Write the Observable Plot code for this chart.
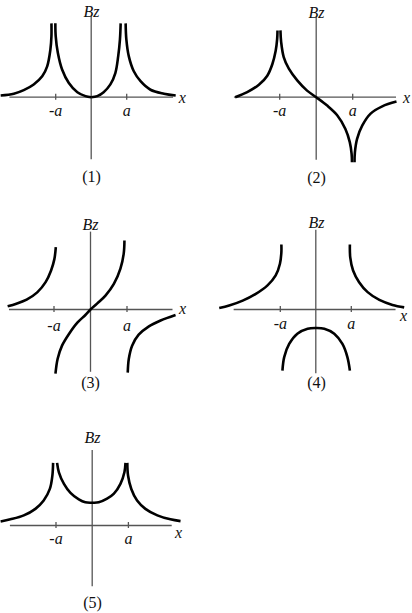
<!DOCTYPE html>
<html><head><meta charset="utf-8">
<script src="https://cdn.jsdelivr.net/npm/d3@7"></script>
<script src="https://cdn.jsdelivr.net/npm/@observablehq/plot@0.6"></script>
<style>
html,body{margin:0;padding:0;background:#fff;}
#chart{position:relative;width:412px;height:613px;overflow:hidden;background:#fff;}
#chart svg{position:absolute;overflow:visible;background:transparent;}
#chart svg text{font-family:"Liberation Serif","Times New Roman",serif;}
</style></head><body><div id="chart"></div>
<script>
// ---- data (x in units of a, Bz in arbitrary units) ----
const tickValues = [-1, 1];
const tickLabels = ["-a", "a"];
const axisName = "Bz";
const xName = "x";
const panelNames = ["(1)", "(2)", "(3)", "(4)", "(5)"];

// Panel (1)
const p1OuterLeft  = [[-2.55,0.05],[-2.18,0.10],[-1.90,0.20],[-1.62,0.36],[-1.38,0.59],[-1.24,0.87],[-1.15,1.34],[-1.12,1.72],[-1.12,2.08]];
const p1InnerLeft  = [[-1.01,2.08],[-1.00,1.72],[-0.94,1.25],[-0.82,0.78],[-0.63,0.40],[-0.39,0.14],[-0.16,0.03],[0,0]];
const p1InnerRight = [[0,0],[0.17,0.03],[0.35,0.14],[0.54,0.36],[0.68,0.68],[0.76,1.15],[0.81,1.63],[0.83,2.08]];
const p1OuterRight = [[0.97,2.08],[0.99,1.63],[1.06,1.15],[1.20,0.73],[1.39,0.45],[1.67,0.21],[2.05,0.10],[2.38,0.05]];

// Panel (2)
const p2OuterLeft  = [[-2.22,0.0],[-1.89,0.14],[-1.57,0.34],[-1.34,0.59],[-1.20,0.91],[-1.11,1.27],[-1.07,1.59],[-1.06,1.83]];
const p2Middle     = [[-0.98,1.83],[-0.96,1.51],[-0.89,1.10],[-0.75,0.78],[-0.52,0.46],[-0.25,0.18],[0,0],[0.30,-0.23],[0.58,-0.50],[0.80,-0.87],[0.92,-1.23],[0.97,-1.55],[0.98,-1.78]];
const p2OuterRight = [[1.05,-1.78],[1.06,-1.51],[1.12,-1.14],[1.26,-0.78],[1.49,-0.45],[1.81,-0.25],[2.20,-0.12]];

// Panel (3)
const p3Left   = [[-2.27,0.09],[-2.03,0.16],[-1.75,0.27],[-1.46,0.47],[-1.23,0.75],[-1.08,1.07],[-0.99,1.38],[-0.95,1.71]];
const p3Middle = [[-0.96,-1.76],[-0.90,-1.35],[-0.78,-0.99],[-0.59,-0.67],[-0.36,-0.36],[-0.14,-0.15],[0,0],[0.18,0.16],[0.41,0.38],[0.64,0.70],[0.82,1.12],[0.91,1.53],[0.93,1.89]];
const p3Right  = [[1.02,-1.73],[1.05,-1.35],[1.14,-0.99],[1.32,-0.69],[1.60,-0.46],[1.92,-0.30],[2.33,-0.15]];

// Panel (4)
const p4Left   = [[-2.72,0.04],[-2.44,0.11],[-2.06,0.25],[-1.69,0.44],[-1.36,0.68],[-1.13,0.96],[-1.01,1.29],[-0.97,1.61],[-0.97,1.83]];
const p4Right  = [[0.96,1.83],[0.97,1.47],[1.05,1.10],[1.22,0.77],[1.46,0.49],[1.79,0.27],[2.16,0.13],[2.49,0.06]];
const p4Middle = [[-0.94,-1.72],[-0.89,-1.34],[-0.75,-0.97],[-0.52,-0.68],[-0.23,-0.54],[0,-0.52],[0.24,-0.54],[0.52,-0.68],[0.75,-0.97],[0.89,-1.34],[0.96,-1.72]];

// Panel (5)
const p5OuterLeft  = [[-2.53,0.11],[-2.26,0.17],[-1.89,0.28],[-1.57,0.46],[-1.34,0.69],[-1.17,1.01],[-1.10,1.38],[-1.08,1.73]];
const p5Inner      = [[-0.97,1.73],[-0.92,1.47],[-0.78,1.15],[-0.60,0.90],[-0.37,0.72],[-0.19,0.64],[0,0.63],[0.18,0.64],[0.41,0.74],[0.60,0.88],[0.78,1.15],[0.89,1.47],[0.92,1.73]];
const p5OuterRight = [[0.97,1.73],[0.99,1.38],[1.08,1.01],[1.24,0.69],[1.47,0.46],[1.80,0.28],[2.16,0.17],[2.44,0.12]];

// ---- layout ----
const panels = [
  {L:0,   T:0,   W:206, H:200, ox:90.7,  oy:96.7, s:35.5, xAxis:[-2.29,2.32], yAxis:[-1.76,2.27],
   bz:[91,11],   xl:[181.7,97], num:[91,176],   tickDy:14, curves:[p1OuterLeft,p1InnerLeft,p1InnerRight,p1OuterRight]},
  {L:206, T:0,   W:206, H:200, ox:315.7, oy:96.7, s:36.5, xAxis:[-2.24,2.20], yAxis:[-1.73,2.19],
   bz:[316,12],  xl:[406,97],   num:[316,177],  tickDy:14, curves:[p2OuterLeft,p2Middle,p2OuterRight]},
  {L:0,   T:200, W:206, H:205, ox:90,    oy:309,  s:36.5, xAxis:[-2.22,2.26], yAxis:[-1.72,2.12],
   bz:[90,224],  xl:[182,308],  num:[90,382.7], tickDy:16, curves:[p3Left,p3Middle,p3Right]},
  {L:206, T:200, W:206, H:205, ox:315.3, oy:309,  s:35.5, xAxis:[-2.30,2.26], yAxis:[-1.81,2.23],
   bz:[316,222.7], xl:[403,315], num:[316,382.7], tickDy:14, curves:[p4Left,p4Right,p4Middle]},
  {L:0,   T:410, W:206, H:203, ox:91.7,  oy:525,  s:36.2, xAxis:[-2.26,2.21], yAxis:[-1.69,2.07],
   bz:[92,437.3], xl:[178,532.7], num:[92,602.7], tickDy:13, curves:[p5OuterLeft,p5Inner,p5OuterRight]}
];

const axisColor = "#555";
const font = "'Liberation Serif', 'Times New Roman', serif";
const fs = 16;
const chart = document.getElementById("chart");

panels.forEach((p, i) => {
  const px = v => (v - p.ox) / p.s;       // page px -> data x
  const py = v => (p.oy - v) / p.s;       // page px -> data y
  const xDom = [px(p.L), px(p.L + p.W)];
  const yDom = [py(p.T + p.H), py(p.T)];
  const th = 3 / p.s;
  const marks = [
    Plot.ruleY([0], {x1: p.xAxis[0], x2: p.xAxis[1], stroke: axisColor, strokeWidth: 1.3}),
    Plot.ruleX([0], {y1: p.yAxis[0], y2: p.yAxis[1], stroke: axisColor, strokeWidth: 1.3}),
    Plot.ruleX(tickValues, {x: d => d, y1: -th, y2: th, stroke: axisColor, strokeWidth: 1.3}),
    Plot.text(tickValues, {x: d => d, y: 0, dy: p.tickDy, text: (d, j) => tickLabels[j],
      fontFamily: font, fontStyle: "italic", fontSize: fs, fill: "#111"}),
    ...p.curves.map(c => Plot.line(c, {x: d => d[0], y: d => d[1], curve: "catmull-rom",
      stroke: "#000", strokeWidth: 2.6, strokeLinecap: "butt"})),
    Plot.text([axisName], {x: px(p.bz[0]), y: py(p.bz[1]), text: d => d,
      fontFamily: font, fontStyle: "italic", fontSize: fs, fill: "#111"}),
    Plot.text([xName], {x: px(p.xl[0]), y: py(p.xl[1]), text: d => d,
      fontFamily: font, fontStyle: "italic", fontSize: fs, fill: "#111"}),
    Plot.text([panelNames[i]], {x: px(p.num[0]), y: py(p.num[1]), text: d => d,
      fontFamily: font, fontSize: fs, fill: "#111"})
  ];
  const svg = Plot.plot({
    width: p.W, height: p.H, margin: 0,
    x: {domain: xDom, range: [0, p.W], axis: null},
    y: {domain: yDom, range: [p.H, 0], axis: null},
    style: {background: "transparent", overflow: "visible", fontFamily: font},
    marks
  });
  svg.style.left = p.L + "px";
  svg.style.top = p.T + "px";
  chart.appendChild(svg);
});
</script></body></html>
